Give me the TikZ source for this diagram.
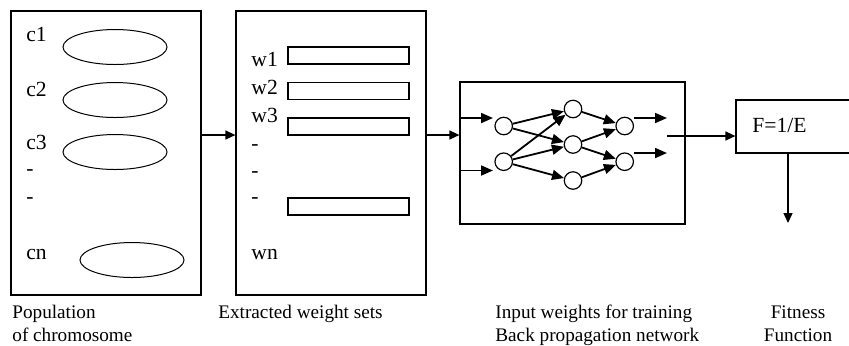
\documentclass[tikz,border=0pt]{standalone}
\usepackage{fontspec}
\setmainfont{Liberation Serif}
\usetikzlibrary{arrows.meta,positioning,shapes.geometric}

\begin{document}
\begin{tikzpicture}[x=0.5pt,y=-0.5pt,>={Triangle[length=5pt,width=4.5pt]},
  every node/.style={font=\fontsize{9.6}{11.5}\selectfont,inner sep=0pt},
  panel/.style={draw,line width=0.6pt,rectangle},
  chrom/.style={draw,ellipse,line width=0.5pt,minimum width=52pt,minimum height=17.5pt},
  wset/.style={draw,rectangle,line width=0.6pt,minimum width=60.5pt,minimum height=8.5pt},
  neuron/.style={draw,circle,line width=0.6pt,minimum size=8.75pt},
  tag/.style={anchor=base west,font=\fontsize{10.8}{13}\selectfont},
  link/.style={->,line width=0.7pt},
  syn/.style={-{Triangle[length=6pt,width=5pt]},line width=0.9pt}]
\useasboundingbox (0,0) rectangle (849,345);
% panels
\node[panel,minimum width=95pt,minimum height=142pt] (pop) at (106,153) {};
\node[panel,minimum width=95pt,minimum height=142pt] (ext) at (331,153) {};
\node[panel,minimum width=112.5pt,minimum height=71pt] (net) at (572.5,153) {};
\node[panel,minimum width=63pt,minimum height=26.5pt] (fit) at (799,126.5) {};
% chromosomes
\node[chrom] (e1) at (115,47) {};
\node[chrom] (e2) at (115,100) {};
\node[chrom] (e3) at (115,152) {};
\node[chrom] (en) at (132,260) {};
\node[tag] (lc1) at (26,41) {c1};
\node[tag] (lc2) at (26,96) {c2};
\node[tag] (lc3) at (26,149) {c3};
\node[tag] (ld1) at (26,175) {-};
\node[tag] (ld2) at (26,203) {-};
\node[tag] (lcn) at (26,259) {cn};
% weight sets
\node[wset] (r1) at (348.5,55.5) {};
\node[wset] (r2) at (348.5,91) {};
\node[wset] (r3) at (348.5,126.5) {};
\node[wset] (rn) at (348.5,206.5) {};
\node[tag] (lw1) at (251,66) {w1};
\node[tag] (lw2) at (251,94) {w2};
\node[tag] (lw3) at (251,122) {w3};
\node[tag] (lv1) at (251,150) {-};
\node[tag] (lv2) at (251,177) {-};
\node[tag] (lv3) at (251,203) {-};
\node[tag] (lwn) at (251,259) {wn};
% network
\node[neuron] (i1) at (503.7,126) {};
\node[neuron] (i2) at (503.7,161.7) {};
\node[neuron] (h1) at (573,109) {};
\node[neuron] (h2) at (573,144.5) {};
\node[neuron] (h3) at (573,180.5) {};
\node[neuron] (o1) at (624.7,126) {};
\node[neuron] (o2) at (624.7,161.7) {};
\coordinate (in1) at (493,118);
\coordinate (in2) at (493,170.5);
\coordinate (out1) at (667,118);
\coordinate (out2) at (667,153);
\coordinate (netout) at (667,136);
\coordinate (mid) at (0,135);
\coordinate (down) at (788,223);
\node[tag] (ftxt) at (752,132) {F=1/E};
% connectors
\draw[link] (pop.east |- mid) -- (ext.west |- mid);
\draw[link] (ext.east |- mid) -- (net.west |- mid);
\draw[syn] (net.west |- in1) -- (in1);
\draw[syn] (net.west |- in2) -- (in2);
\foreach \a/\b in {i1/h1,i1/h2,i2/h1,i2/h2,i2/h3,h1/o1,h2/o1,h2/o2,h3/o2}
  \draw[syn] (\a) -- (\b);
\draw[syn] (o1.east |- out1) -- (out1);
\draw[syn] (o2.east |- out2) -- (out2);
\draw[link] (netout) -- (fit.west |- netout);
\draw[link] (fit.south -| down) -- (down);
% captions
\node[anchor=north west,align=left] (cpop) at (12,305) {Population\\of chromosome};
\node[anchor=north west,align=left] (cext) at (218,305) {Extracted weight sets};
\node[anchor=north west,align=left] (cnet) at (495,305) {Input weights for training\\Back propagation network};
\node[anchor=north,align=center] (cfit) at (798,305) {Fitness\\Function};
\end{tikzpicture}
\end{document}
